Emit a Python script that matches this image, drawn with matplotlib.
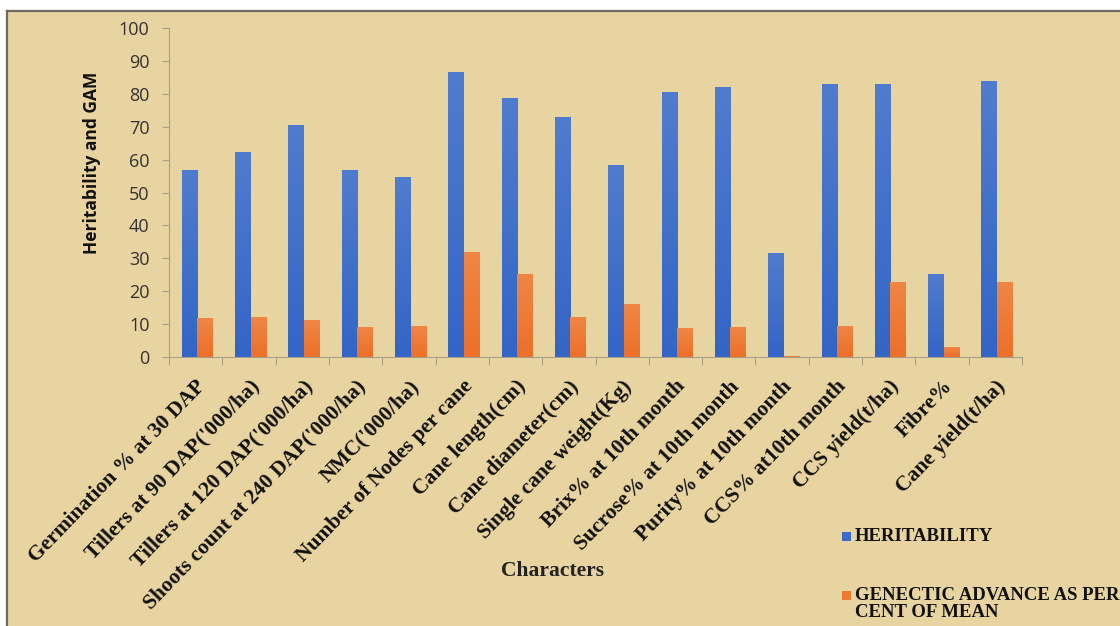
import matplotlib

matplotlib.use("Agg")
import matplotlib.pyplot as plt
from matplotlib.colors import LinearSegmentedColormap
from matplotlib.patches import Rectangle
import numpy as np

characters = [
    "Germination % at 30 DAP",
    "Tillers at 90 DAP('000/ha)",
    "Tillers at 120 DAP('000/ha)",
    "Shoots count at 240 DAP('000/ha)",
    "NMC('000/ha)",
    "Number of Nodes per cane",
    "Cane length(cm)",
    "Cane diameter(cm)",
    "Single cane weight(Kg)",
    "Brix% at 10th month",
    "Sucrose% at 10th month",
    "Purity% at 10th month",
    "CCS% at10th month",
    "CCS yield(t/ha)",
    "Fibre%",
    "Cane yield(t/ha)",
]
heritability = [56.8, 62.2, 70.4, 56.8, 54.8, 86.5, 78.8, 73.0,
                58.5, 80.5, 82.0, 31.5, 83.1, 82.9, 25.2, 83.8]
gam = [11.9, 12.2, 11.2, 9.2, 9.4, 31.9, 25.2, 12.3,
       16.1, 8.8, 9.2, 0.3, 9.5, 22.9, 3.1, 22.7]
series_names = ["HERITABILITY", "GENECTIC ADVANCE AS PER\nCENT OF MEAN"]

W, H = 1120, 626
BG = "#E8D4A0"
BLUE = "#3B6BCA"
ORANGE = "#EE7A33"
GRID = "#A89F8A"

# top-light / bottom-dark fills for the two series
blue_grad = LinearSegmentedColormap.from_list("blue_grad", ["#3365C6", "#507CCF"])
orange_grad = LinearSegmentedColormap.from_list("orange_grad", ["#EB7028", "#F08645"])

fig = plt.figure(figsize=(W / 100, H / 100), dpi=100)
fig.patch.set_facecolor("white")

# panel background with its dark frame on top and left
fig.add_artist(Rectangle((7 / W, 0), 1 - 7 / W, (H - 11) / H, transform=fig.transFigure,
                         facecolor=BG, edgecolor="none", zorder=-10))
fig.add_artist(plt.Line2D([7 / W, 1], [(H - 11) / H] * 2, transform=fig.transFigure,
                          color="#6E6A60", linewidth=1.6))
fig.add_artist(plt.Line2D([7 / W, 7 / W], [0, (H - 11) / H], transform=fig.transFigure,
                          color="#6E6A60", linewidth=1.6))

ax = fig.add_axes([169 / W, 1 - 357 / H, (1022 - 169) / W, (357 - 28) / H])
ax.set_facecolor("none")

x = np.arange(len(characters))
bw = 0.29
bars_h = ax.bar(x - bw / 2 + 0.03, heritability, bw, color=BLUE,
                label=series_names[0], zorder=3)
bars_g = ax.bar(x + bw / 2 + 0.03, gam, bw, color=ORANGE,
                label=series_names[1], zorder=3)

grad = np.linspace(0, 1, 256).reshape(-1, 1)
for bars, cmap in [(bars_h, blue_grad), (bars_g, orange_grad)]:
    for b in bars:
        x0, w, hgt = b.get_x(), b.get_width(), b.get_height()
        if hgt <= 0:
            continue
        im = ax.imshow(grad, cmap=cmap, origin="lower", aspect="auto",
                       extent=(x0, x0 + w, 0, hgt), zorder=4, interpolation="bilinear")
        im.set_clip_path(b)

ax.set_xlim(-0.5, len(characters) - 0.5)
ax.set_ylim(0, 100)
ax.set_yticks(range(0, 101, 10))

for s in ["top", "right"]:
    ax.spines[s].set_visible(False)
for s in ["left", "bottom"]:
    ax.spines[s].set_color(GRID)
    ax.spines[s].set_linewidth(0.8)

ax.tick_params(axis="y", colors=GRID, length=5, width=0.8, labelcolor="#333333",
               labelsize=13, pad=9)
for lbl in ax.get_yticklabels():
    lbl.set_family("Open Sans")

# category ticks sit on the boundaries, labels at the centres
ax.set_xticks(np.arange(-0.5, len(characters), 1.0))
ax.set_xticklabels([])
ax.tick_params(axis="x", colors=GRID, length=6, width=0.8)
ax.set_xticks(x, minor=True)
ax.set_xticklabels(characters, minor=True, rotation=46, ha="right", va="top",
                   rotation_mode="anchor", fontsize=15.5, fontweight="bold",
                   family="Liberation Serif", color="#111111")
ax.tick_params(axis="x", which="minor", length=0, pad=14)

fig.text(92 / W, 1 - 163 / H, "Heritability and GAM", rotation=90, ha="center",
         va="center", fontsize=12.5, fontweight="bold", family="Open Sans",
         color="#111111")

fig.text(553 / W, 1 - 571 / H, "Characters", ha="center", va="center",
         fontsize=15.5, fontweight="bold", family="Liberation Serif", color="#222222")

# legend drawn by hand so the wrapped entry keeps its marker on the first line
legend_rows = [(537, BLUE), (596, ORANGE)]
for (ypx, col), name in zip(legend_rows, series_names):
    fig.add_artist(Rectangle((842 / W, 1 - (ypx + 4) / H), 9 / W, 9 / H,
                             transform=fig.transFigure, facecolor=col, edgecolor="none"))
    fig.text(855 / W, 1 - (ypx - 9) / H, name, ha="left", va="top", fontsize=13.5,
             fontweight="bold", family="Liberation Serif", color="#111111",
             linespacing=1.0)

fig.savefig("out.png", dpi=100, facecolor=fig.get_facecolor())
